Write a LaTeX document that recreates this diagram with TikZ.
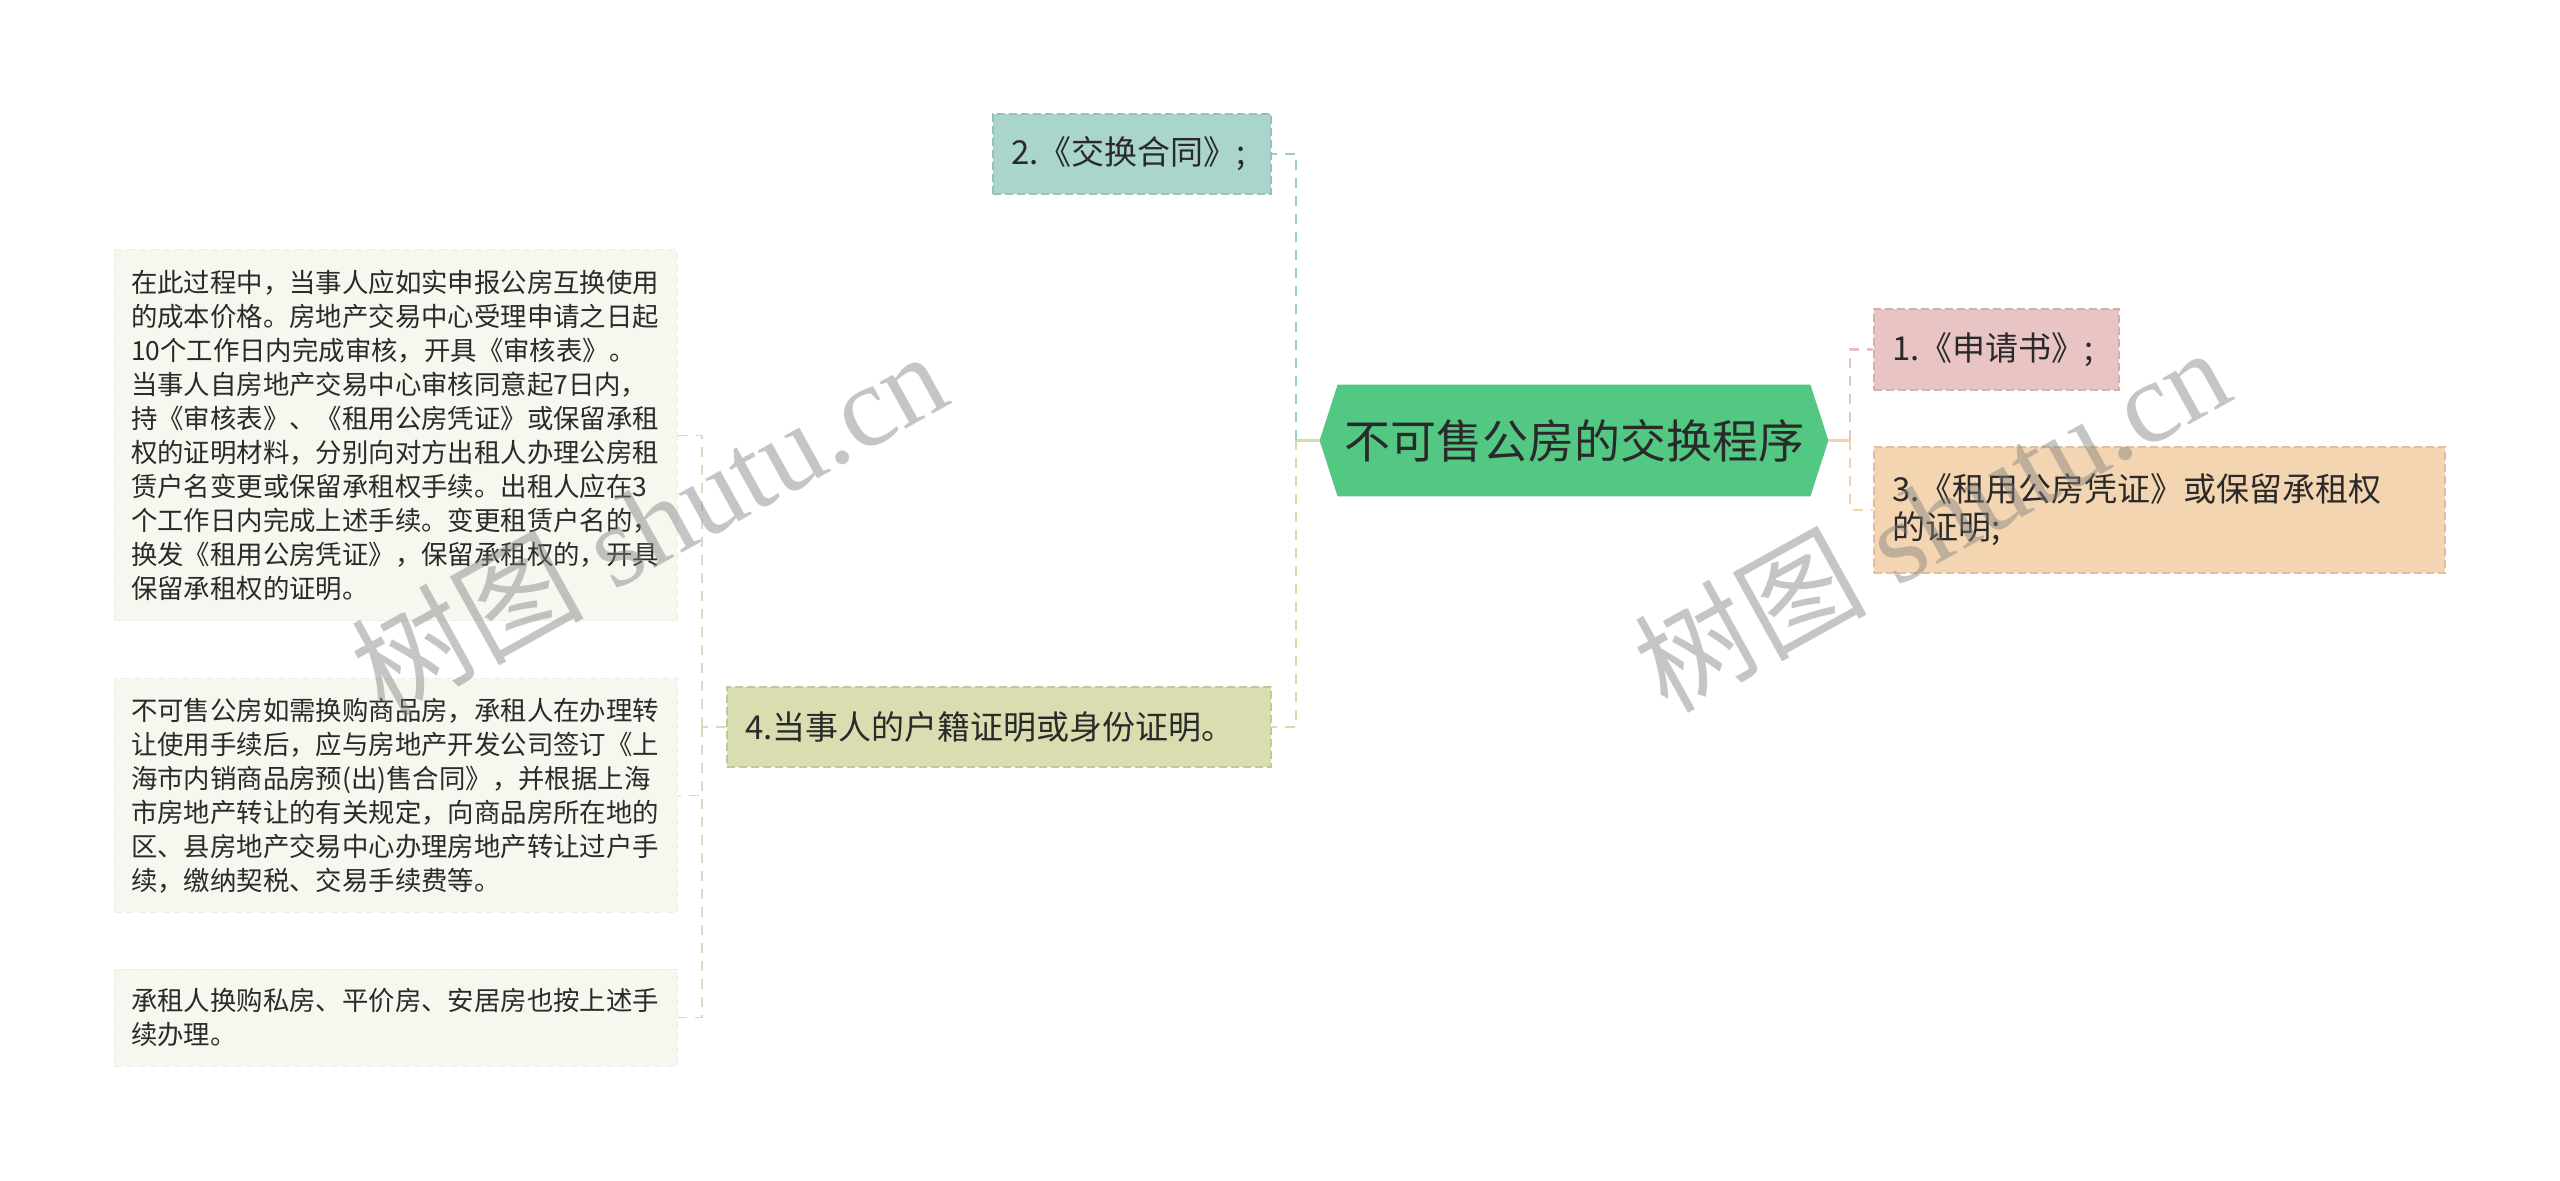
\documentclass[tikz,border=0pt]{standalone}
\usepackage{fontspec}
\newfontfamily\cjk{Noto Sans CJK SC}
\newfontfamily\wmserif{Liberation Serif}
\usetikzlibrary{backgrounds,calc}
\definecolor{rootgreen}{HTML}{52C883}
\definecolor{tealbox}{HTML}{A9D5CC}
\definecolor{tealline}{HTML}{9ECDC3}
\definecolor{olivebox}{HTML}{D9DDB0}
\definecolor{oliveline}{HTML}{D6DBAE}
\definecolor{pinkbox}{HTML}{E8C5C4}
\definecolor{pinkline}{HTML}{E6C2C1}
\definecolor{peachbox}{HTML}{F4D5B1}
\definecolor{peachline}{HTML}{F3D2AF}
\definecolor{leafbox}{HTML}{F6F7EE}
\definecolor{leafline}{HTML}{D8DCBF}
\definecolor{txt}{HTML}{2A2A2A}
\begin{document}
\begin{tikzpicture}[x=0.5pt,y=-0.5pt,
  lvl/.style={fill=#1box, draw=#1box!90!black, dash pattern=on 4pt off 2pt, line width=0.6pt,
    text=txt, inner xsep=9pt, inner ysep=0pt, align=left,
    font=\cjk\fontsize{16.5}{19}\selectfont},
  leaf/.style={fill=leafbox, draw=leafbox!96!black, dash pattern=on 4pt off 2pt, line width=0.5pt,
    text=txt, inner xsep=8.5pt, inner ysep=0pt, text width=264.5pt, align=left,
    font=\cjk\fontsize{13.2}{17}\selectfont},
  rootbox/.style={inner sep=0pt, minimum width=254pt, minimum height=55.5pt, text=txt,
    font=\cjk\fontsize{23}{26}\selectfont},
  solidconn/.style={draw=#1, line width=1.4pt},
  dashconn/.style={draw=#1, line width=1.4pt, dash pattern=on 5pt off 4pt},
  leafconn/.style={draw=leafline, line width=0.9pt, dash pattern=on 5pt off 4pt},
  wm/.style={rotate=29, text=gray, text opacity=0.45, inner sep=0pt,
    font=\wmserif\fontsize{58}{60}\selectfont}
]
\useasboundingbox (0,0) rectangle (2560,1181);

% root
\node[rootbox] (root) at (1574,440.5) {不可售公房的交换程序};
\begin{scope}[on background layer]
\fill[white] (0,0) rectangle (2560,1181);
\fill[rootgreen] (root.west) -- ($(root.north west)+(18,0)$) -- ($(root.north east)+(-18,0)$)
  -- (root.east) -- ($(root.south east)+(-18,0)$) -- ($(root.south west)+(18,0)$) -- cycle;
\end{scope}

% level-1 nodes
\node[lvl=teal, text width=121pt, minimum height=40pt] (n2) at (1132,154) {2.《交换合同》;};
\node[lvl=olive, text width=254pt, minimum height=40pt] (n4) at (999,727) {4.当事人的户籍证明或身份证明。};
\node[lvl=pink, text width=104.5pt, minimum height=40.5pt] (n1) at (1996.5,349.5) {1.《申请书》;};
\node[lvl=peach, text width=267.5pt, minimum height=63pt] (n3) at (2159.5,510) {3.《租用公房凭证》或保留承租权\\的证明;};

% leaves
\node[leaf, minimum height=185.5pt] (l1) at (395.5,435.5) {在此过程中，当事人应如实申报公房互换使用\\的成本价格。房地产交易中心受理申请之日起\\10个工作日内完成审核，开具《审核表》。\\当事人自房地产交易中心审核同意起7日内，\\持《审核表》、《租用公房凭证》或保留承租\\权的证明材料，分别向对方出租人办理公房租\\赁户名变更或保留承租权手续。出租人应在3\\个工作日内完成上述手续。变更租赁户名的，\\换发《租用公房凭证》，保留承租权的，开具\\保留承租权的证明。};
\node[leaf, minimum height=116.5pt] (l2) at (395.5,795.5) {不可售公房如需换购商品房，承租人在办理转\\让使用手续后，应与房地产开发公司签订《上\\海市内销商品房预(出)售合同》，并根据上海\\市房地产转让的有关规定，向商品房所在地的\\区、县房地产交易中心办理房地产转让过户手\\续，缴纳契税、交易手续费等。};
\node[leaf, minimum height=48.5pt] (l3) at (395.5,1017.5) {承租人换购私房、平价房、安居房也按上述手\\续办理。};

% junctions
\coordinate (lj) at (1296,440.5);
\coordinate (rj) at (1850,440.5);
\coordinate (n4j) at (702,727);

% connectors
\draw[solidconn=oliveline] (root.west) -- (lj);
\draw[dashconn=tealline] (lj) |- (n2.east);
\draw[dashconn=oliveline] (lj) |- (n4.east);
\draw[solidconn=peachline] (root.east) -- (rj);
\draw[dashconn=pinkline] (rj) |- (n1.west);
\draw[dashconn=peachline] (rj) |- (n3.west);
\draw[leafconn] (n4.west) -- (n4j);
\draw[leafconn] (n4j) |- (l1.east);
\draw[leafconn] (n4j) |- (l2.east);
\draw[leafconn] (n4j) |- (l3.east);

% watermarks
\node[wm] (wm1) at (648,522) {{\cjk 树图} shutu.cn};
\node[wm] (wm2) at (1931,518) {{\cjk 树图} shutu.cn};
\end{tikzpicture}
\end{document}
